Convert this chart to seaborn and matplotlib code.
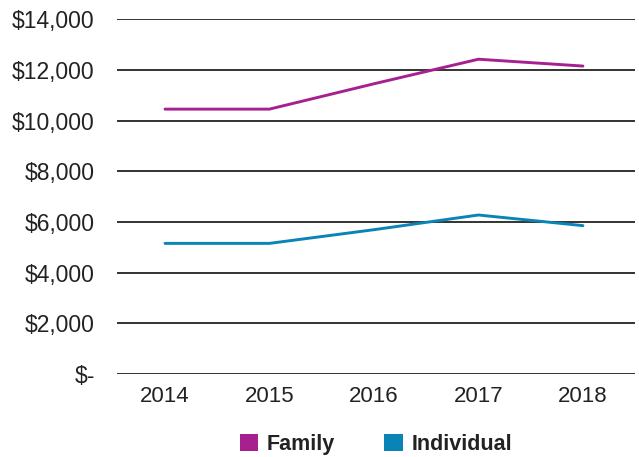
import pandas as pd
import seaborn as sns
import matplotlib.pyplot as plt
from matplotlib.patches import Patch
from matplotlib.ticker import FuncFormatter

years = ["2014", "2015", "2016", "2017", "2018"]
family = [10450, 10450, 11450, 12420, 12150]
individual = [5150, 5150, 5690, 6270, 5850]
series_names = ["Family", "Individual"]
colors = ["#A6218F", "#0A84B6"]

df = pd.DataFrame({
    "year": years * 2,
    "cost": family + individual,
    "plan": ["Family"] * 5 + ["Individual"] * 5,
})

sns.set_style("white")
plt.rcParams["font.family"] = ["Liberation Sans", "DejaVu Sans"]

fig = plt.figure(figsize=(6.39, 4.57), dpi=100)
ax = fig.add_axes([0.183, 0.182, 0.811, 0.776])

sns.lineplot(data=df, x="year", y="cost", hue="plan", palette=colors,
             linewidth=2.1, legend=False, ax=ax, sort=False)

ax.set_ylim(0, 14000)
ax.set_yticks(range(0, 14001, 2000))
ax.set_xlim(-0.46, 4.5)
ax.yaxis.set_major_formatter(FuncFormatter(lambda v, p: "$-" if v == 0 else f"${v:,.0f}"))
ax.grid(axis="y", color="#333333", linewidth=1.4)
ax.grid(axis="x", visible=False)
ax.set_axisbelow(True)
for s in ax.spines.values():
    s.set_visible(False)
ax.tick_params(axis="y", length=0, pad=16, labelsize=16.5, labelcolor="#222222")
ax.tick_params(axis="x", length=0, pad=9, labelsize=16, labelcolor="#222222")
ax.set_xlabel("")
ax.set_ylabel("")

handles = [Patch(facecolor=c, edgecolor="none") for c in colors]
fig.legend(handles, series_names, loc="center", bbox_to_anchor=(0.588, 0.028),
           ncol=2, frameon=False, handlelength=0.85, handleheight=0.85,
           handletextpad=0.4, columnspacing=2.3,
           prop={"size": 15.5, "weight": "bold"}, labelcolor="#222222")

fig.savefig("out.png", dpi=100)
